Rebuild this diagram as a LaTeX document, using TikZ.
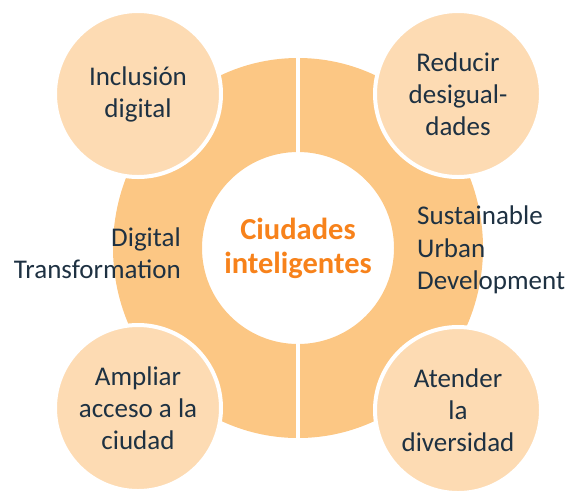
\documentclass[tikz,border=0pt]{standalone}
\usepackage{fontspec}
\setmainfont{Carlito}
\usepackage{xcolor}
\usetikzlibrary{positioning}
\definecolor{ringorange}{HTML}{FCC784}
\definecolor{petalorange}{HTML}{FDDBB3}
\definecolor{titleorange}{HTML}{F7821B}
\definecolor{inkblue}{HTML}{1E3142}

\begin{document}
\begin{tikzpicture}[x=1pt, y=-1pt,
    ring/.style={fill=ringorange, even odd rule},
    gap/.style={draw=white, line width=4pt},
    petal/.style={circle, fill=petalorange, draw=white, line width=4pt, minimum size=166pt, inner sep=0pt, align=center, text=inkblue, font=\fontsize{27}{32}\selectfont},
    side/.style={text=inkblue, font=\fontsize{27}{32.5}\selectfont, inner sep=0pt},
    title/.style={text=titleorange, font=\bfseries\fontsize{30.5}{34}\selectfont, align=center}
]
    \useasboundingbox (0,0) rectangle (569,491);

    % Ring
    \coordinate (hub) at (298,248);
    \fill[ring] (hub) ellipse [x radius=185pt, y radius=190pt] (hub) circle [radius=96pt];
    \coordinate (gaptop) at (298,54);
    \coordinate (gapbot) at (298,442);
    \draw[gap] (gaptop) -- (gapbot);

    % Centre
    \node[title] (city) at (hub) {Ciudades\\inteligentes};

    % Ring labels
    \node[side, align=right, anchor=east] (digital) at (181,253) {Digital\\Transformation};
    \node[side, align=left, anchor=west] (urban) at (417,250) {Sustainable\\Urban\\Development};

    % Petals
    \node[petal] (inclusion) at (138,94) {Inclusión\\digital};
    \node[petal] (reducir) at (458,94) {Reducir\\desigual-\\dades};
    \node[petal] (ampliar) at (138,408) {Ampliar\\acceso a la\\ciudad};
    \node[petal] (atender) at (458,410) {Atender\\la\\diversidad};
\end{tikzpicture}
\end{document}
